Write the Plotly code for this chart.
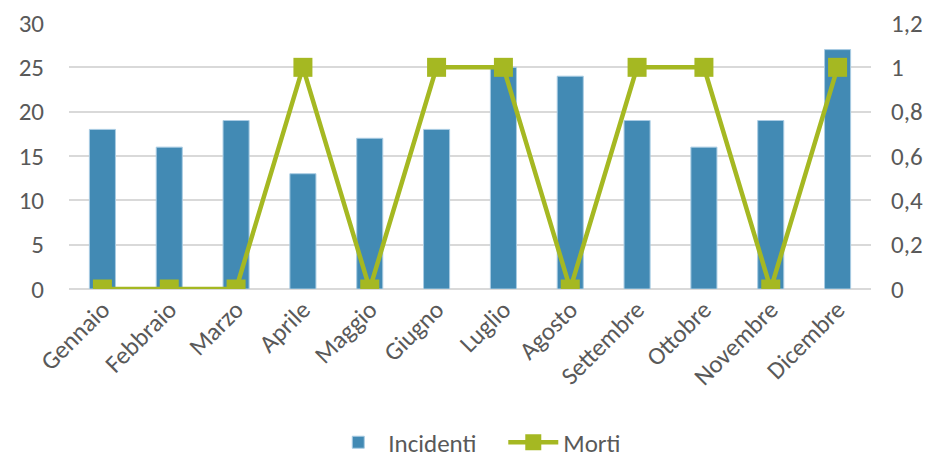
import plotly.graph_objects as go

months = ["Gennaio", "Febbraio", "Marzo", "Aprile", "Maggio", "Giugno",
          "Luglio", "Agosto", "Settembre", "Ottobre", "Novembre", "Dicembre"]
incidenti = [18, 16, 19, 13, 17, 18, 25, 24, 19, 16, 19, 27]
morti = [0, 0, 0, 1, 0, 1, 1, 0, 1, 1, 0, 1]

font_family = "Carlito, Calibri, Lato, 'Open Sans', sans-serif"
txt = "#595959"
fs = 25

fig = go.Figure()
fig.add_trace(go.Bar(
    x=months, y=incidenti, name="Incidenti",
    marker=dict(color="#428ab4", line=dict(color="#a9cce3", width=1)),
    yaxis="y",
))
fig.add_trace(go.Scatter(
    x=months, y=morti, name="Morti", mode="lines+markers",
    line=dict(color="#a5b822", width=4.5),
    marker=dict(symbol="square", size=19, color="#a5b822"),
    yaxis="y2",
))

fig.update_layout(
    width=923, height=454,
    margin=dict(l=61, r=60, t=15, b=173, autoexpand=False),
    paper_bgcolor="white", plot_bgcolor="white",
    separators=",.",
    font=dict(family=font_family, size=fs, color=txt),
    bargap=0.61,
    showlegend=True,
    legend=dict(orientation="h", x=0.347, xanchor="left", xref="container",
                y=0.043, yanchor="middle", yref="container",
                entrywidth=110, entrywidthmode="pixels",
                font=dict(size=fs, color=txt), itemwidth=50, tracegroupgap=0),
    xaxis=dict(range=[-0.5, 11.5], tickangle=-45, showgrid=False, showline=False,
               ticks="", automargin=False, tickfont=dict(size=fs, color=txt)),
    yaxis=dict(range=[0, 30], dtick=5, showgrid=True, gridcolor="#d9d9d9",
               gridwidth=1.5, zeroline=True, zerolinecolor="#d9d9d9", zerolinewidth=1.5,
               ticks="", automargin=False, ticklabelstandoff=24,
               ticklabeloverflow="allow",
               tickfont=dict(size=fs, color=txt)),
    yaxis2=dict(range=[0, 1.2], dtick=0.2, overlaying="y", side="right",
                showgrid=False, zeroline=False, ticks="", automargin=False,
                ticklabelstandoff=19, ticklabeloverflow="allow",
                tickfont=dict(size=fs, color=txt)),
    hovermode=False,
)

fig.write_html("out.html")
